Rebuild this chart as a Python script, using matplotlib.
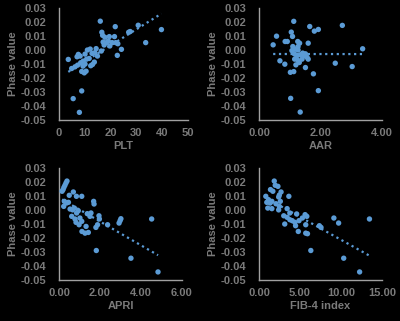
import numpy as np
import matplotlib.pyplot as plt

plt.rcParams['font.family'] = ['Liberation Sans', 'DejaVu Sans']
plt.rcParams['font.weight'] = 'bold'

# PLT panel
plt_x = [3.6, 16.0, 21.8, 30.7, 27.6, 27.0, 39.7, 33.6, 16.6, 16.9, 17.8, 19.5, 21.5,
         17.1, 18.4, 19.1, 20.6, 22.0, 22.8, 17.5, 19.7, 24.2, 22.6, 14.4, 16.4, 12.1,
         11.0, 7.5, 8.2, 7.0, 10.1, 14.9, 11.7, 10.7, 9.4, 8.4, 7.2, 6.2, 13.7, 13.0,
         12.3, 10.1, 9.3, 8.8, 9.8, 10.5, 4.9, 8.8, 5.5, 7.9, 13.9, 12.8]
plt_y = [-0.0067, 0.0206, 0.0167, 0.0177, 0.0132, 0.0127, 0.0146, 0.0053, 0.0127, 0.0105,
         0.0091, 0.0096, 0.0096, 0.0057, 0.0053, 0.0065, 0.0053, 0.0053, 0.0045, 0.0036,
         0.0029, 0.0005, -0.0038, 0.0010, -0.0007, 0.0007, 0.0000, -0.0031, -0.0043,
         -0.0048, -0.0029, -0.0043, -0.0060, -0.0065, -0.0079, -0.0091, -0.0108, -0.0120,
         -0.0086, -0.0103, -0.0112, -0.0100, -0.0115, -0.0153, -0.0163, -0.0151, -0.0132,
         -0.0292, -0.0347, -0.0445, -0.0019, -0.0024]

# AAR panel
aar_x = [1.13, 1.65, 1.80, 1.93, 2.71, 3.37, 0.57, 0.46, 1.05, 1.09, 0.85, 0.92, 1.26,
         1.32, 1.60, 1.10, 1.18, 1.27, 1.07, 1.15, 1.23, 1.34, 1.45, 1.51, 1.56, 1.16,
         1.27, 1.40, 1.60, 0.68, 0.84, 1.20, 1.31, 1.51, 2.48, 3.03, 1.02, 1.13, 1.77,
         1.93, 1.03, 1.34, 1.42, 1.27]
aar_y = [0.0205, 0.0168, 0.0135, 0.0147, 0.0176, 0.0009, 0.0099, 0.0037, 0.0128, 0.0097,
         0.0061, 0.0061, 0.0061, 0.0049, 0.0049, 0.0025, 0.0006, 0.0000, -0.0004, -0.0027,
         -0.0042, -0.0034, -0.0042, -0.0027, -0.0051, -0.0065, -0.0075, -0.0065, -0.0065,
         -0.0077, -0.0101, -0.0106, -0.0089, -0.0125, -0.0094, -0.0118, -0.0159, -0.0154,
         -0.0170, -0.0290, -0.0345, -0.0443, -0.0022, 0.0025]

# APRI panel
apri_x = [0.39, 0.34, 0.29, 0.24, 0.20, 0.15, 0.50, 0.70, 0.85, 1.11, 1.69, 1.71, 0.26,
          0.37, 0.46, 0.23, 0.54, 0.67, 0.75, 0.86, 0.62, 0.78, 1.02, 1.38, 1.56, 1.95,
          1.97, 1.11, 0.83, 0.98, 1.32, 1.80, 1.88, 2.37, 2.93, 2.98, 3.02, 4.52, 1.12,
          1.27, 1.43, 1.82, 3.51, 4.83, 0.94, 1.51]
apri_y = [0.0206, 0.0192, 0.0176, 0.0161, 0.0145, 0.0133, 0.0104, 0.0128, 0.0097, 0.0097,
          0.0061, 0.0042, 0.0061, 0.0049, 0.0054, 0.0025, 0.0006, 0.0000, 0.0013, -0.0022,
          -0.0046, -0.0065, -0.0058, -0.0027, -0.0022, -0.0042, -0.0065, -0.0082, -0.0089,
          -0.0106, -0.0118, -0.0125, -0.0106, -0.0106, -0.0094, -0.0077, -0.0063, -0.0065,
          -0.0154, -0.0166, -0.0161, -0.0290, -0.0345, -0.0443, -0.0006, -0.0046]

# FIB-4 panel
fib_x = [1.86, 1.98, 2.31, 1.40, 1.69, 2.69, 2.48, 0.83, 3.64, 2.40, 1.16, 1.57, 0.95,
         2.60, 2.07, 1.36, 1.07, 1.57, 2.40, 3.43, 2.48, 3.02, 3.43, 4.59, 5.62, 5.83,
         3.76, 4.05, 4.38, 4.88, 5.29, 3.14, 4.46, 5.70, 7.36, 7.56, 9.13, 9.71, 13.47,
         4.79, 5.70, 5.91, 6.32, 10.33, 12.27, 3.76]
fib_y = [0.0206, 0.0176, 0.0168, 0.0145, 0.0133, 0.0128, 0.0106, 0.0097, 0.0097, 0.0092,
         0.0073, 0.0061, 0.0054, 0.0061, 0.0044, 0.0049, 0.0013, 0.0009, 0.0000, 0.0009,
         0.0025, -0.0042, -0.0053, -0.0029, -0.0034, -0.0046, -0.0070, -0.0077, -0.0089,
         -0.0077, -0.0058, -0.0101, -0.0113, -0.0106, -0.0113, -0.0125, -0.0058, -0.0094,
         -0.0065, -0.0154, -0.0166, -0.0170, -0.0290, -0.0345, -0.0443, -0.0022]

y_ticks = [-0.05, -0.04, -0.03, -0.02, -0.01, 0.00, 0.01, 0.02, 0.03]

panels = [
    (plt_x, plt_y, "PLT", [0, 10, 20, 30, 40, 50], "{:.0f}", [0.1475, 0.626, 0.3225, 0.349]),
    (aar_x, aar_y, "AAR", [0, 2, 4], "{:.2f}", [0.6475, 0.626, 0.3075, 0.349]),
    (apri_x, apri_y, "APRI", [0, 2, 4, 6], "{:.2f}", [0.1475, 0.128, 0.3075, 0.349]),
    (fib_x, fib_y, "FIB-4 index", [0, 5, 10, 15], "{:.2f}", [0.6475, 0.128, 0.3075, 0.349]),
]

blue = "#5b9bd5"
txt = "#7a7a7a"
axc = "#a0a0a0"

fig = plt.figure(figsize=(4.0, 3.21), dpi=100, facecolor="black")

for xs, ys, name, xt, fmt, rect in panels:
    ax = fig.add_axes(rect, facecolor="black")
    xs = np.array(xs)
    ys = np.array(ys)
    ax.scatter(xs, ys, s=15, color=blue, edgecolors="none", zorder=3)
    # linear trendline over data range
    k, b = np.polyfit(xs, ys, 1)
    lx = np.array([xs.min(), xs.max()])
    ax.plot(lx, k * lx + b, ls=(0, (1, 1.6)), lw=1.6, color=blue, zorder=2)

    ax.set_xlim(xt[0], xt[-1])
    ax.set_ylim(-0.05, 0.03)
    ax.set_xticks(xt)
    ax.set_xticklabels([fmt.format(v) for v in xt])
    ax.set_yticks(y_ticks)
    ax.set_yticklabels(["{:.2f}".format(v) for v in y_ticks])
    ax.tick_params(length=0, colors=txt, labelsize=8)
    ax.tick_params(axis="y", pad=9)
    ax.tick_params(axis="x", pad=6)
    for sp in ["top", "right"]:
        ax.spines[sp].set_visible(False)
    for sp in ["left", "bottom"]:
        ax.spines[sp].set_color(axc)
        ax.spines[sp].set_linewidth(1.0)
    ax.set_xlabel(name, color=txt, fontsize=8, fontweight="bold", labelpad=2)
    ax.set_ylabel("Phase value", color=txt, fontsize=8, fontweight="bold", labelpad=2)

plt.savefig("out.png", dpi=100, facecolor="black")
